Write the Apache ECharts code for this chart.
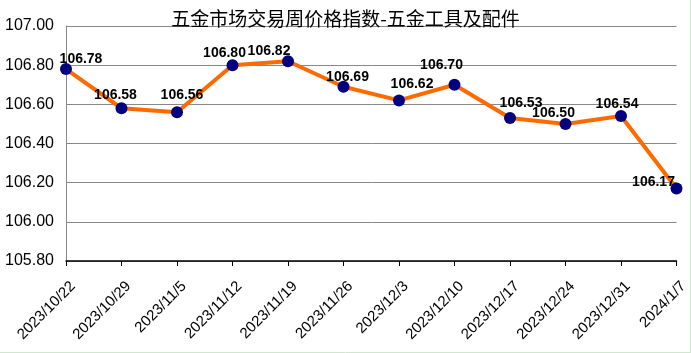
<!DOCTYPE html>
<html>
<head>
<meta charset="utf-8">
<script src="https://cdn.jsdelivr.net/npm/echarts@6/dist/echarts.min.js"></script>
<style>
  html, body { margin: 0; padding: 0; background: #fff; }
  #chart { width: 691px; height: 353px; }
</style>
</head>
<body>
<div id="chart"></div>
<script>
// 周日期
var weeks = ['2023/10/22', '2023/10/29', '2023/11/5', '2023/11/12', '2023/11/19', '2023/11/26',
  '2023/12/3', '2023/12/10', '2023/12/17', '2023/12/24', '2023/12/31', '2024/1/7']
// 五金工具及配件 价格指数
var priceIndex = [106.78, 106.58, 106.56, 106.80, 106.82, 106.69, 106.62, 106.70, 106.53, 106.50, 106.54, 106.17]
var yMin = 105.8
var yMax = 107.0
var yStep = 0.2

// 数据标签微调 (像素偏移, 只是样式)
var labelNudge = [[15, 3], [-6, 0], [5, -4], [-8, 1], [-19, 3], [4, 3],
  [13, -3], [-13, -7], [11, -2], [-12, 2], [-4, 1], [-23, 7]]

var chart = echarts.init(document.getElementById('chart'))

var points = priceIndex.map(function (v, i) {
  return { value: v, label: { offset: labelNudge[i] } }
})

chart.setOption({
  animation: false,
  title: {
    text: '五金市场交易周价格指数-五金工具及配件',
    left: 'center',
    top: 4,
    textStyle: {
      fontFamily: 'Noto Sans CJK SC',
      fontSize: 19,
      fontWeight: 'normal',
      color: '#000'
    }
  },
  grid: { left: 66, right: 8, top: 26, bottom: 92 },
  xAxis: {
    type: 'category',
    boundaryGap: false,
    data: weeks,
    axisLine: { lineStyle: { color: '#000', width: 1.5 } },
    axisTick: { show: true, alignWithLabel: true, length: 5, lineStyle: { color: '#000' } },
    axisLabel: {
      rotate: 45,
      interval: 0,
      margin: 30,
      padding: [0, -10, 0, 0],
      color: '#000',
      fontFamily: 'Arial, Liberation Sans',
      fontSize: 15
    }
  },
  yAxis: {
    type: 'value',
    min: yMin,
    max: yMax,
    interval: yStep,
    axisLine: { show: true, lineStyle: { color: '#888' } },
    axisTick: { show: false },
    splitLine: { lineStyle: { color: '#888', width: 1 } },
    axisLabel: {
      margin: 12,
      color: '#000',
      fontFamily: 'Arial, Liberation Sans',
      fontSize: 16,
      formatter: function (v) { return v.toFixed(2) }
    }
  },
  series: [{
    type: 'line',
    data: points,
    symbol: 'circle',
    symbolSize: 12,
    lineStyle: { color: '#FF6A00', width: 4 },
    itemStyle: { color: '#000080' },
    label: {
      show: true,
      position: 'top',
      distance: 0,
      color: '#000',
      fontFamily: 'Arial, Liberation Sans',
      fontSize: 14,
      fontWeight: 'bold',
      formatter: function (p) { return p.value.toFixed(2) }
    }
  }],
  graphic: [
    { type: 'line', shape: { x1: 0, y1: 352.5, x2: 691, y2: 352.5 }, style: { stroke: '#cde8cd', lineWidth: 1 } },
    { type: 'line', shape: { x1: 690.5, y1: 0, x2: 690.5, y2: 353 }, style: { stroke: '#cde8cd', lineWidth: 1 } }
  ]
})
</script>
</body>
</html>
